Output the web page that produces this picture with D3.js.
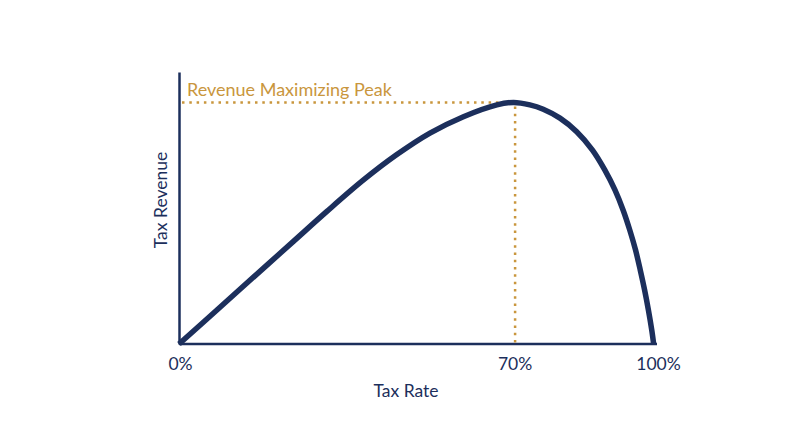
<!DOCTYPE html>
<html lang="en">
<head>
  <meta charset="UTF-8">
  <title>Laffer Curve</title>
  <script src="https://d3js.org/d3.v7.min.js"></script>
  <style>
    body { margin: 0; background: #fff; }
    text { font-family: Lato, "Open Sans", sans-serif; }
  </style>
</head>
<body>
  <svg width="800" height="447"></svg>
  <script>
    // values (tax rate in %, revenue relative to peak = 100)
    const taxRate = [0, 8, 16, 24, 31, 38.6, 45.5, 52.5, 59.5, 66.5, 70, 73.4, 76.2, 79.7, 83.2, 86.5, 89.1, 91.2, 92.9, 94.3, 95.5, 96.5, 97.4, 98.2, 98.9, 99.3];
    const revenue = [0, 14.2, 28.4, 42.6, 55.0, 67.9, 78.3, 87.3, 94.1, 99.0, 100, 99.0, 97.2, 93.5, 87.9, 80.3, 72.0, 63.8, 55.5, 47.2, 39.0, 30.6, 22.4, 14.1, 5.8, 0];
    const tickValues = [0, 70, 100];
    const tickLabels = ["0%", "70%", "100%"];
    const peakRate = 70;
    const peakRevenue = 100;

    const navy = "#1c2f5c";
    const gold = "#c9963d";

    const svg = d3.select("svg");

    const x = d3.scaleLinear().domain([0, 100]).range([179, 657]);
    const y = d3.scaleLinear().domain([0, 112.6]).range([344, 72]);

    // axes
    const xAxis = svg.append("g")
      .attr("transform", `translate(0,${y(0)})`)
      .call(d3.axisBottom(x)
        .tickValues(tickValues)
        .tickFormat((d, i) => tickLabels[i])
        .tickSize(0)
        .tickPadding(14));
    xAxis.select(".domain")
      .attr("d", `M${x(0)},0H${x(100)}`)
      .attr("stroke", navy)
      .attr("stroke-width", 2.5);
    xAxis.selectAll(".tick text")
      .attr("fill", navy)
      .attr("font-size", 17.5)
      .attr("font-family", "Lato, sans-serif")
      .attr("dy", "0.71em")
      .attr("dx", 1);

    const yAxis = svg.append("g")
      .attr("transform", `translate(${x(0)},0)`)
      .call(d3.axisLeft(y).tickValues([]).tickSizeOuter(0));
    yAxis.select(".domain")
      .attr("stroke", navy)
      .attr("stroke-width", 2.5);

    // axis titles
    svg.append("text")
      .attr("x", 406)
      .attr("y", 397)
      .attr("text-anchor", "middle")
      .attr("fill", navy)
      .attr("font-size", 17.5)
      .text("Tax Rate");

    svg.append("text")
      .attr("transform", "translate(167,200) rotate(-90)")
      .attr("text-anchor", "middle")
      .attr("fill", navy)
      .attr("font-size", 17.5)
      .text("Tax Revenue");

    // peak guides
    svg.append("line")
      .attr("x1", x(0) + 3).attr("x2", x(peakRate))
      .attr("y1", y(peakRevenue)).attr("y2", y(peakRevenue))
      .attr("stroke", gold)
      .attr("stroke-width", 2.5)
      .attr("stroke-dasharray", "2.5 4.8");

    svg.append("line")
      .attr("x1", x(peakRate) + 1.5).attr("x2", x(peakRate) + 1.5)
      .attr("y1", y(peakRevenue) + 4).attr("y2", y(0))
      .attr("stroke", gold)
      .attr("stroke-width", 2.5)
      .attr("stroke-dasharray", "2.5 4.8");

    svg.append("text")
      .attr("x", 187)
      .attr("y", 96)
      .attr("fill", gold)
      .attr("font-size", 18)
      .text("Revenue Maximizing Peak");

    // the curve
    const points = taxRate.map((r, i) => [r, revenue[i]]);
    const line = d3.line()
      .x(d => x(d[0]))
      .y(d => y(d[1]))
      .curve(d3.curveCatmullRom.alpha(0.5));

    svg.append("path")
      .datum(points)
      .attr("d", line)
      .attr("fill", "none")
      .attr("stroke", navy)
      .attr("stroke-width", 5.5)
      .attr("stroke-linejoin", "round");
  </script>
</body>
</html>
